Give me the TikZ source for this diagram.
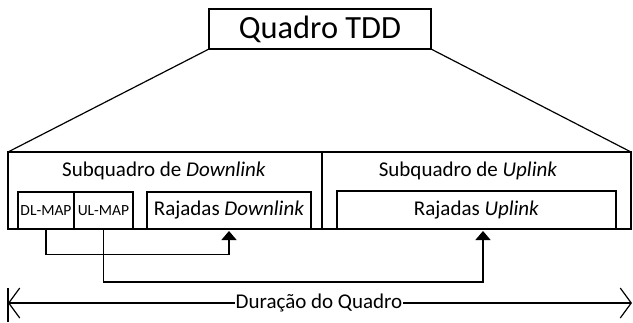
\documentclass[tikz,border=0pt]{standalone}
\usepackage{fontspec}
\setmainfont{Carlito}
\usetikzlibrary{arrows.meta}
\begin{document}
\begin{tikzpicture}[x=1pt,y=-1pt,
  every node/.style={inner sep=0pt, outer sep=0pt},
  box/.style={draw, line width=1.4pt, rectangle},
  lbl/.style={font=\fontsize{21}{24}\selectfont},
  small/.style={font=\fontsize{15.5}{18}\selectfont},
  link/.style={line width=1.4pt, -{Triangle[length=9pt,width=15pt]}, shorten >=2pt},
  span/.style={line width=1.2pt, {Straight Barb[length=11pt,width=30pt,line width=1.2pt]}-{Straight Barb[length=11pt,width=30pt,line width=1.2pt]}}
]
\useasboundingbox (0,0) rectangle (633,322);

% frame title
\node[box, minimum width=222pt, minimum height=40pt, font=\fontsize{32.4}{36}\selectfont] (title) at (320,29) {Quadro TDD};

% downlink and uplink subframes
\node[box, minimum width=314pt, minimum height=77pt] (dlsub) at (165,190.5) {};
\node[box, minimum width=309pt, minimum height=77pt] (ulsub) at (476.5,190.5) {};
\node[lbl] (dltext) at (164,171) {Subquadro de \textit{Downlink}};
\node[lbl] (ultext) at (468,171) {Subquadro de \textit{Uplink}};

% bursts and maps
\node[box, small, minimum width=56pt, minimum height=37pt] (dlmap) at (46,210.5) {DL-MAP};
\node[box, small, minimum width=59pt, minimum height=37pt] (ulmap) at (103.5,210.5) {UL-MAP};
\node[box, lbl, minimum width=164pt, minimum height=37pt] (rajdl) at (229,210.5) {Rajadas \textit{Downlink}};
\node[box, lbl, minimum width=279pt, minimum height=38pt] (rajul) at (476.5,210) {Rajadas \textit{Uplink}};

% projection of the title onto the frame
\draw[line width=1.2pt] (title.south west) -- (dlsub.north west);
\draw[line width=1.2pt] (title.south east) -- (ulsub.north east);

% map pointers
\draw[link] (dlmap.south) -- ++(0,25.5) -| (rajdl.south);
\draw[link] (ulmap.south) -- ++(0,53) -| ([xshift=6.5pt]rajul.south);

% frame duration
\coordinate (dstart) at (8,303);
\coordinate (dend) at (632,303);
\coordinate (bartop) at (8,288);
\coordinate (barbot) at (8,322);
\draw[line width=1.4pt] (bartop) -- (barbot);
\draw[span] (dstart) -- (dend);
\node[lbl, fill=white, inner xsep=1pt] (dur) at (319,303) {Duração do Quadro};
\end{tikzpicture}
\end{document}
